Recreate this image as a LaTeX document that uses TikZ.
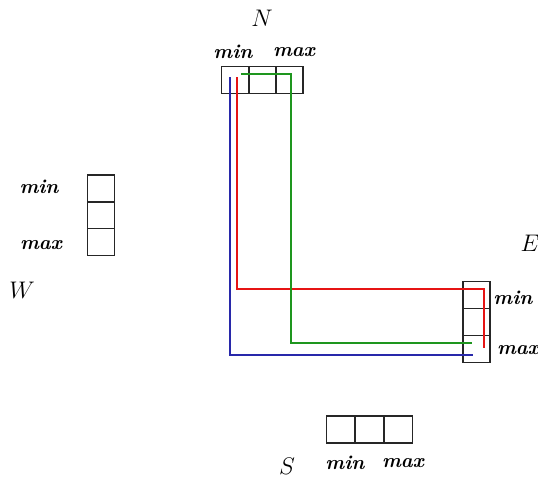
\documentclass[tikz,border=0pt]{standalone}
\usepackage{tikz}
\usetikzlibrary{positioning}
\definecolor{linered}{RGB}{230,20,20}
\definecolor{linegreen}{RGB}{30,150,30}
\definecolor{lineblue}{RGB}{40,40,170}
\tikzset{
    cell/.style = {rectangle, line width=0.75pt, draw=black!85, minimum width = 13.7pt, minimum height = 13.3pt, inner sep=0pt},
    cellw/.style = {cell, minimum width = 14.3pt},
    lbl/.style = {inner sep=0pt, font=\bfseries\itshape},
    side/.style = {inner sep=0pt, font=\large},
    edger/.style = {semithick,linered},
    edgeg/.style = {semithick,linegreen},
    edgeb/.style = {semithick,lineblue}
}
\begin{document}
\begin{tikzpicture}[x=0.5pt,y=-0.5pt]
\useasboundingbox (0,0) rectangle (538,478);
%
\node[side] at (262,18) (N) {$N$};
\node[lbl] at (233,52) (nmin) {min};
\node[lbl] at (294,52) (nmax) {max};
\node[cell] at (235,80) (n1) {};
\node[cell] at (262.5,80) (n2) {};
\node[cell] at (289.5,80) (n3) {};
%
\node[cell] at (101,188.5) (w1) {};
\node[cell] at (101,215) (w2) {};
\node[cell] at (101,242) (w3) {};
\node[lbl] at (39,187) (wmin) {min};
\node[lbl] at (41,245) (wmax) {max};
\node[side] at (22,290) (W) {$W$};
%
\node[side] at (530,243) (E) {$E$};
\node[cell] at (476.5,295) (e1) {};
\node[cell] at (476.5,322) (e2) {};
\node[cell] at (476.5,349) (e3) {};
\node[lbl] at (513,298) (emin) {min};
\node[lbl] at (518,350) (emax) {max};
%
\node[cellw] at (341,429.5) (s1) {};
\node[cellw] at (369.5,429.5) (s2) {};
\node[cellw] at (398,429.5) (s3) {};
\node[side] at (287,466) (S) {$S$};
\node[lbl] at (345,463) (smin) {min};
\node[lbl] at (403,463) (smax) {max};
%
\coordinate (bs) at (230,77);
\coordinate (be) at (473,355);
\coordinate (rs) at (237,77);
\coordinate (rc) at (484,289);
\coordinate (re) at (484,348);
\coordinate (gs) at (241,74);
\coordinate (gc) at (291,343);
\coordinate (ge) at (472,343);
%
\draw[edgeb] (bs) |- (be);
\draw[edger] (rs) |- (rc) -- (re);
\draw[edgeg] (gs) -| (gc) -- (ge);

\end{tikzpicture}
\end{document}
